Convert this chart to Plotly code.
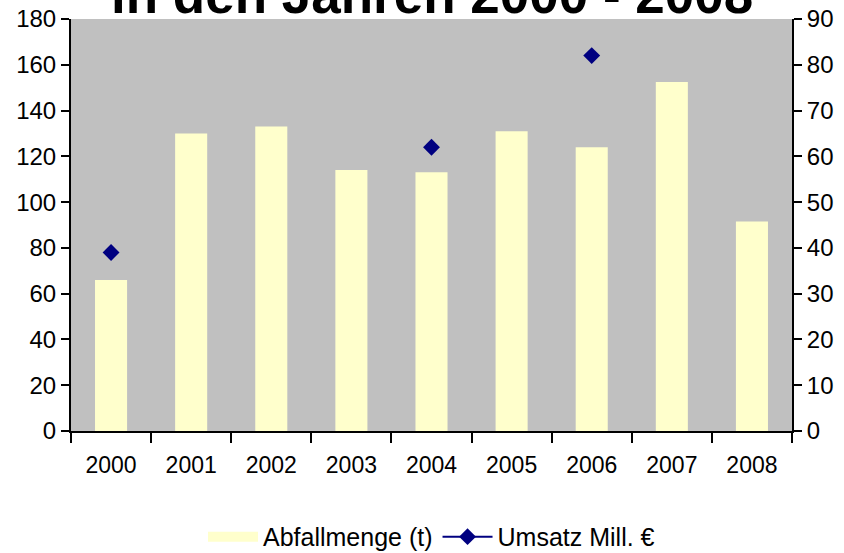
import plotly.graph_objects as go

years = ["2000", "2001", "2002", "2003", "2004", "2005", "2006", "2007", "2008"]
abfallmenge = [66, 130, 133, 114, 113, 131, 124, 152.5, 91.5]
umsatz = [39, None, None, None, 62, None, 82, None, None]

left_ticks = list(range(0, 181, 20))
right_ticks = list(range(0, 91, 10))

FONT = "Liberation Sans, Arial, sans-serif"
BAR_COLOR = "#FFFFCC"
LINE_COLOR = "#000080"
TICK_SIZE = 24
n = len(years)
boundaries = [i - 0.5 for i in range(n + 1)]

fig = go.Figure()
fig.add_trace(go.Bar(
    x=years, y=abfallmenge, name="Abfallmenge (t)",
    marker=dict(color=BAR_COLOR, line=dict(width=0)),
    width=0.4, yaxis="y", showlegend=False,
))
# legend entry drawn as a wide swatch like the original
fig.add_trace(go.Scatter(
    x=[years[0]], y=[None], name="Abfallmenge (t)", mode="lines",
    line=dict(color=BAR_COLOR, width=15), yaxis="y",
))
fig.add_trace(go.Scatter(
    x=years, y=umsatz, name="Umsatz Mill. €", mode="lines+markers",
    line=dict(color=LINE_COLOR, width=2), connectgaps=False,
    marker=dict(symbol="diamond", size=13, color=LINE_COLOR),
    yaxis="y2",
))

tick_common = dict(tickwidth=2, tickcolor="black", showgrid=False, zeroline=False,
                   automargin=False)

fig.update_layout(
    width=844, height=553,
    margin=dict(l=71, r=52, t=19, b=122, pad=0, autoexpand=False),
    paper_bgcolor="white", plot_bgcolor="#C0C0C0",
    font=dict(family=FONT, size=TICK_SIZE, color="black"),
    showlegend=True,
    legend=dict(orientation="h", x=0.5, xanchor="center", y=-0.257, yanchor="middle",
                font=dict(size=25), traceorder="normal", itemwidth=50,
                bgcolor="rgba(0,0,0,0)"),
    xaxis=dict(type="category", categoryorder="array", categoryarray=years,
               range=[-0.5, n - 0.5], showline=True, linecolor="black", linewidth=2,
               ticks="outside", ticklen=10, tickson="boundaries",
               ticklabelstandoff=12, tickfont=dict(size=TICK_SIZE - 1), **tick_common),
    xaxis2=dict(overlaying="x", range=[-0.5, n - 0.5], tickvals=boundaries,
                ticks="inside", ticklen=9, showticklabels=False, showline=False,
                side="bottom", **tick_common),
    xaxis3=dict(overlaying="x", range=[-0.5, n - 0.5], side="top", showline=True,
                linecolor="#808080", linewidth=2, ticks="", showticklabels=False,
                showgrid=False, zeroline=False, automargin=False),
    yaxis=dict(range=[0, 180], tickvals=left_ticks, showline=True, linecolor="black",
               linewidth=2, ticks="outside", ticklen=8, tickfont=dict(size=TICK_SIZE),
               **tick_common),
    yaxis2=dict(range=[0, 90], tickvals=right_ticks, overlaying="y", side="right",
                showline=True, linecolor="black", linewidth=2, ticks="outside",
                ticklen=8, tickfont=dict(size=TICK_SIZE), **tick_common),
    yaxis3=dict(range=[0, 180], tickvals=left_ticks, overlaying="y", side="left",
                ticks="inside", ticklen=8, showticklabels=False, showline=False,
                **tick_common),
    yaxis4=dict(range=[0, 90], tickvals=right_ticks, overlaying="y", side="right",
                ticks="inside", ticklen=8, showticklabels=False, showline=False,
                **tick_common),
    annotations=[dict(text="<b>in den Jahren 2000 - 2008</b>", xref="paper", yref="paper",
                      x=0.5, y=1, xanchor="center", yanchor="bottom", yshift=-7,
                      showarrow=False, font=dict(size=53, family=FONT, color="black"))],
)

fig.write_html("out.html", config={"displayModeBar": False},
               post_script="document.body.style.margin='0';")
